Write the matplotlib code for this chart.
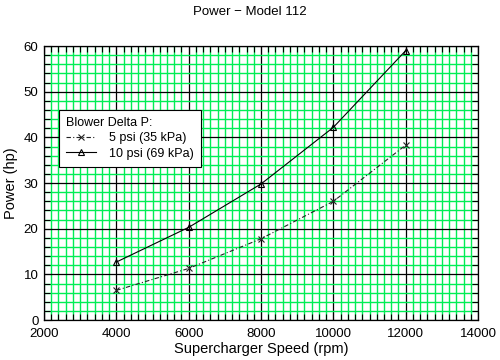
import matplotlib
matplotlib.use('Agg')
import matplotlib.pyplot as plt
from matplotlib.ticker import MultipleLocator

plt.rcParams['font.family'] = ['Liberation Sans', 'DejaVu Sans']

speed = [4000, 6000, 8000, 10000, 12000]
power_5psi = [6.5, 11.3, 17.8, 26.0, 38.3]
power_10psi = [12.7, 20.3, 29.8, 42.2, 59.0]
labels = ['5 psi (35 kPa)', '10 psi (69 kPa)']

fig = plt.figure(figsize=(5, 3.6), dpi=100)
ax = fig.add_axes([0.088, 0.111, 0.868, 0.761])

ax.set_xlim(2000, 14000)
ax.set_ylim(0, 60)
ax.xaxis.set_major_locator(MultipleLocator(2000))
ax.xaxis.set_minor_locator(MultipleLocator(200))
ax.yaxis.set_major_locator(MultipleLocator(10))
ax.yaxis.set_minor_locator(MultipleLocator(2))

# green fine grid, black coarse grid
ax.grid(which='minor', color='#00ee55', linewidth=1.0)
ax.grid(which='major', color='black', linewidth=0.9)
ax.set_axisbelow(True)

ax.tick_params(which='both', direction='in', top=True, right=True,
               labelsize=9.5)
ax.tick_params(axis='x', pad=6)
ax.tick_params(axis='y', pad=4)
ax.tick_params(which='major', length=6, width=0.8)
ax.tick_params(which='minor', length=4, width=0.8)
for s in ax.spines.values():
    s.set_linewidth(0.9)

ax.plot(speed, power_5psi, color='#222222', linewidth=0.8,
        linestyle=(0, (4, 2, 1, 2)), marker='x', markersize=5,
        markeredgewidth=0.8, label=labels[0])
ax.plot(speed, power_10psi, color='black', linewidth=0.8, linestyle='-',
        marker='^', markersize=5, markerfacecolor='none',
        markeredgewidth=0.8, label=labels[1])

ax.set_xlabel('Supercharger Speed (rpm)', fontsize=10.5, labelpad=1)
ax.set_ylabel('Power (hp)', fontsize=10.5, labelpad=4)
fig.suptitle('Power \u2212 Model 112', fontsize=9.5, y=0.983)

leg = ax.legend(title='Blower Delta P:', loc='upper left',
                bbox_to_anchor=(0.02, 0.79), fontsize=9, title_fontsize=9,
                fancybox=False, framealpha=1, edgecolor='black',
                borderpad=0.6, handlelength=2.4, labelspacing=0.25,
                handletextpad=1.0)
leg._legend_box.align = 'left'
leg.get_frame().set_linewidth(0.8)

fig.savefig('out.png', dpi=100)
